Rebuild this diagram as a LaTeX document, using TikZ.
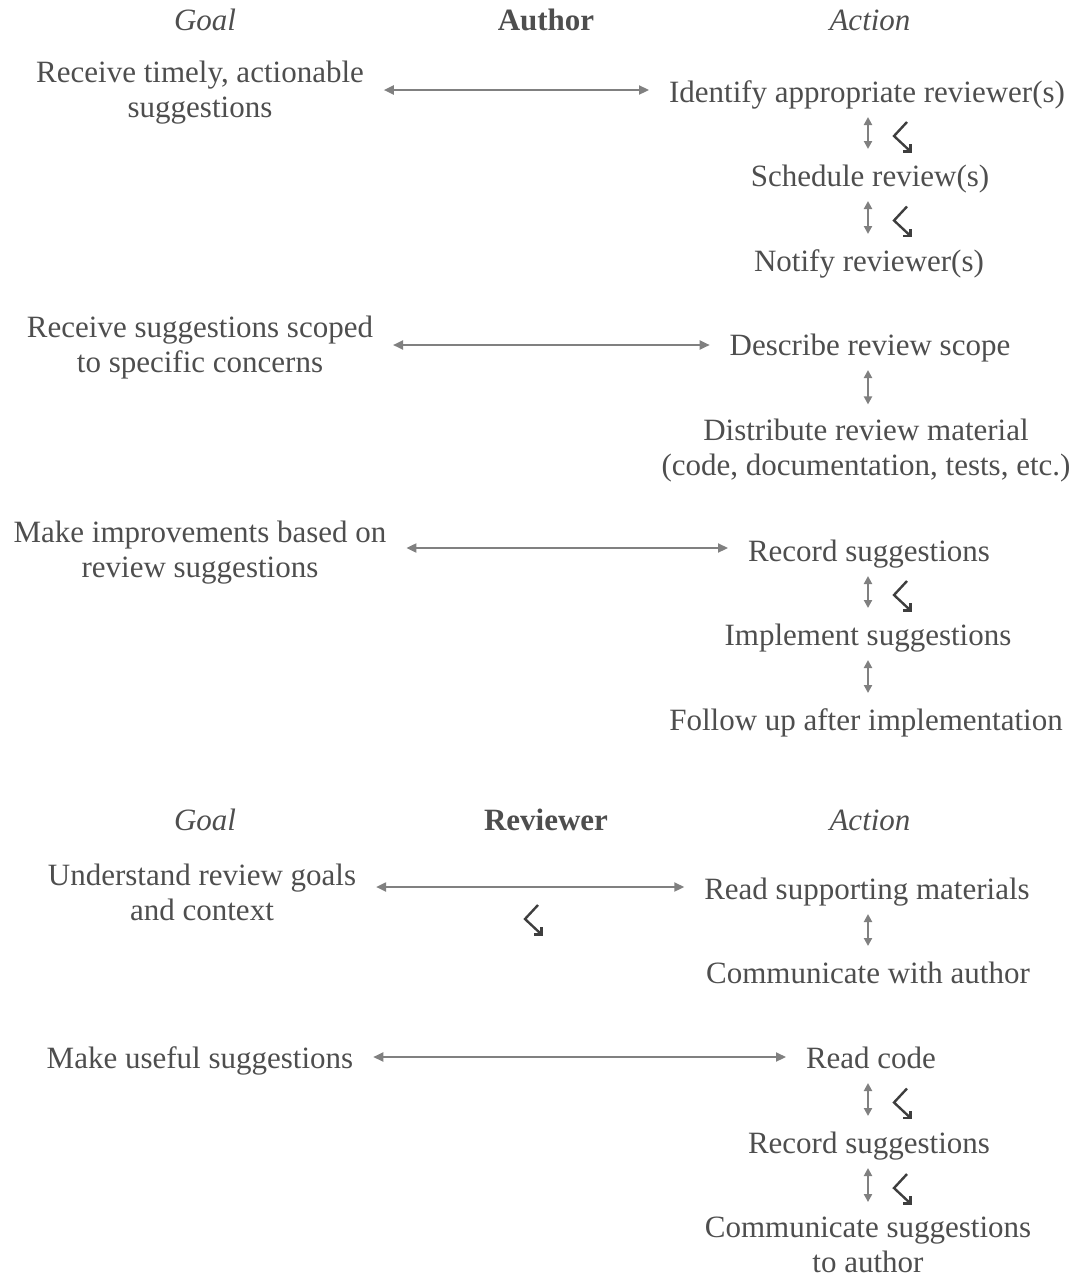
\documentclass[tikz,border=0pt]{standalone}
\usepackage{fontspec}
\setmainfont{Liberation Serif}
\usetikzlibrary{arrows.meta,calc}
\definecolor{txt}{RGB}{78,78,78}
\definecolor{arr}{RGB}{128,128,128}
\definecolor{hk}{RGB}{62,62,62}
\newcommand\hookat[1]{%
  \begin{scope}[shift={(#1)}]
    \draw[hook] (13,-14) -- (0,0) -- (15.5,14.5);
    \draw[hook] (9,15.5) -- (16.5,15.5) -- (16.5,8);
  \end{scope}}
\begin{document}
\begin{tikzpicture}[x=1pt,y=-1pt,
  every node/.style={font=\fontsize{31}{35}\selectfont, text=txt, inner sep=0pt, outer sep=0pt, yshift=-3pt},
  one/.style={text height=22pt, text depth=8pt},
  two/.style={align=center},
  hdr/.style={one},
  harr/.style={draw=arr, line width=2pt, {Triangle[length=10pt,width=9pt]}-{Triangle[length=10pt,width=9pt]}, shorten <=20pt, shorten >=20pt},
  varr/.style={draw=arr, line width=2pt, {Triangle[length=8pt,width=8pt]}-{Triangle[length=8pt,width=8pt]}, shorten <=7pt, shorten >=15pt},
  hook/.style={draw=hk, line width=2.4pt, line join=miter, line cap=butt}
]
\useasboundingbox (0,0) rectangle (1076,1278);

% ---------- Author ----------
\node[hdr, font=\fontsize{31}{35}\selectfont\itshape] (hg1) at (205,20) {Goal};
\node[hdr, font=\fontsize{31}{35}\selectfont\bfseries] (hau) at (546,20) {Author};
\node[hdr, font=\fontsize{31}{35}\selectfont\itshape] (ha1) at (870,20) {Action};

\node[two] (g1) at (200,90) {Receive timely, actionable\\suggestions};
\node[one] (a1) at (867,92) {Identify appropriate reviewer(s)};
\node[one] (a2) at (870,176) {Schedule review(s)};
\node[one] (a3) at (869,261) {Notify reviewer(s)};

\node[two] (g2) at (200,345) {Receive suggestions scoped\\to specific concerns};
\node[one] (a4) at (870,345) {Describe review scope};
\node[two] (a5) at (866,448) {Distribute review material\\(code, documentation, tests, etc.)};

\node[two] (g3) at (200,550) {Make improvements based on\\review suggestions};
\node[one] (a6) at (869,551) {Record suggestions};
\node[one] (a7) at (868,635) {Implement suggestions};
\node[one] (a8) at (866,720) {Follow up after implementation};

\draw[harr] (g1.east |- 0,90) -- (a1.west |- 0,90);
\draw[harr] (g2.east |- 0,345) -- (a4.west |- 0,345);
\draw[harr] (g3.east |- 0,548) -- (a6.west |- 0,548);

\draw[varr] (868,0 |- a1.south) -- coordinate (m1) (868,0 |- a2.north);
\draw[varr] (868,0 |- a2.south) -- coordinate (m2) (868,0 |- a3.north);
\draw[varr] (868,0 |- a4.south) -- coordinate (m3) (868,0 |- a5.north);
\draw[varr] (868,0 |- a6.south) -- coordinate (m4) (868,0 |- a7.north);
\draw[varr] (868,0 |- a7.south) -- coordinate (m5) (868,0 |- a8.north);
\hookat{$(m1)+(26,-4)$}
\hookat{$(m2)+(26,-4)$}
\hookat{$(m4)+(26,-4)$}

% ---------- Reviewer ----------
\node[hdr, font=\fontsize{31}{35}\selectfont\itshape] (rg1) at (205,820) {Goal};
\node[hdr, font=\fontsize{31}{35}\selectfont\bfseries] (rrv) at (546,820) {Reviewer};
\node[hdr, font=\fontsize{31}{35}\selectfont\itshape] (ra1) at (870,820) {Action};

\node[two] (g4) at (202,889) {Understand review goals\\and context};
\node[one] (b1) at (867,889) {Read supporting materials};
\node[one] (b2) at (868,973) {Communicate with author};

\node[one] (g5) at (200,1058) {Make useful suggestions};
\node[one] (b3) at (871,1058) {Read code};
\node[one] (b4) at (869,1143) {Record suggestions};
\node[two] (b5) at (868,1242) {Communicate suggestions\\to author};

\draw[harr] (g4.east |- 0,887) -- (b1.west |- 0,887);
\draw[harr] (g5.east |- 0,1057) -- (b3.west |- 0,1057);

\draw[varr] (868,0 |- b1.south) -- coordinate (n1) (868,0 |- b2.north);
\draw[varr] (868,0 |- b3.south) -- coordinate (n2) (868,0 |- b4.north);
\draw[varr] (868,0 |- b4.south) -- coordinate (n3) (868,0 |- b5.north);
\hookat{$(n2)+(26,-4)$}
\hookat{$(n3)+(26,-4)$}
\hookat{525,919}
\end{tikzpicture}
\end{document}
